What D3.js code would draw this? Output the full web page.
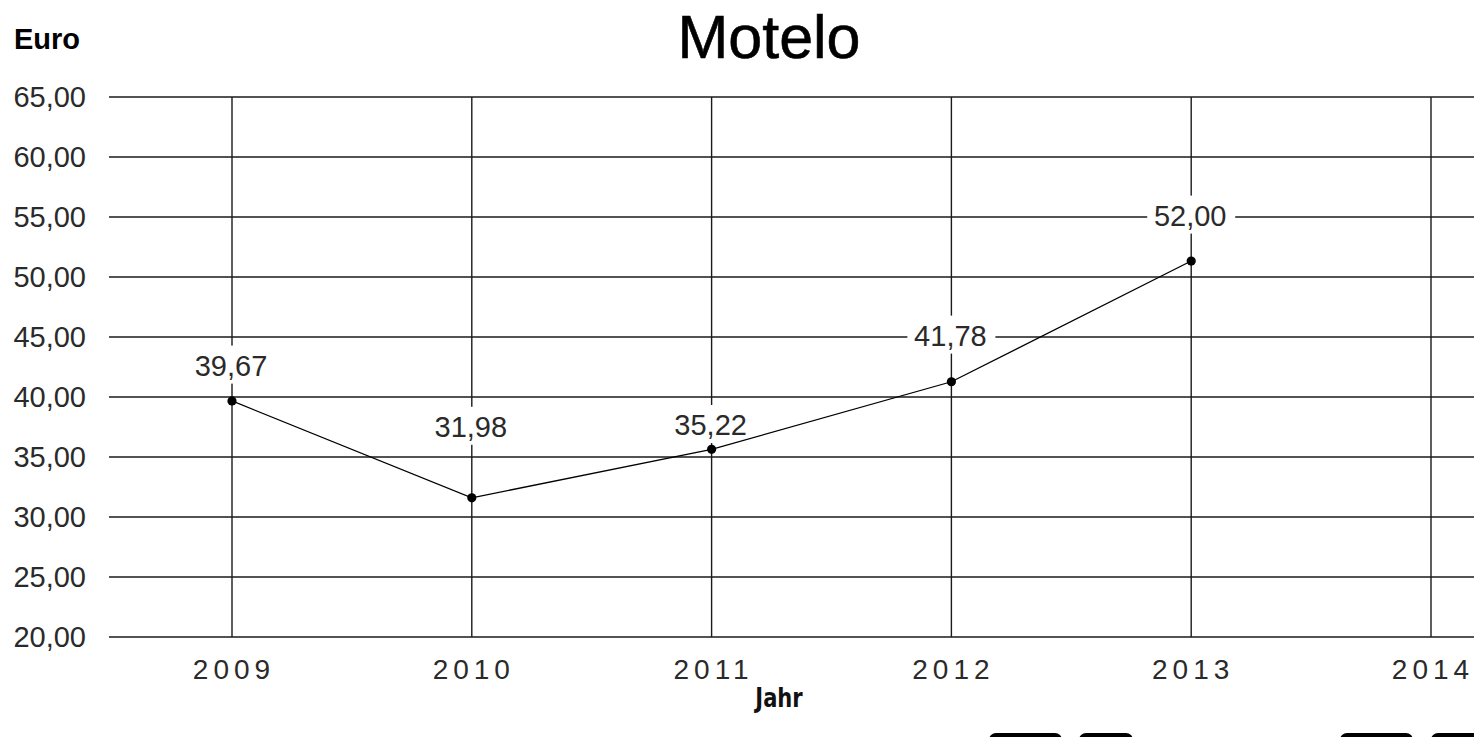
<!DOCTYPE html>
<html>
<head>
<meta charset="utf-8">
<script src="https://cdn.jsdelivr.net/npm/d3@7"></script>
<style>
  html, body { margin: 0; padding: 0; background: #fff; overflow: hidden; }
  svg { display: block; font-family: "Liberation Sans", Arial, sans-serif; }
</style>
</head>
<body>
<div id="chart-container"></div>
<script>
const years = [2009, 2010, 2011, 2012, 2013]
const yearTicks = [2009, 2010, 2011, 2012, 2013, 2014]
// where the dots sit in the picture
const values = [39.67, 31.6, 35.64, 41.27, 51.33]
// the printed numbers
const valueLabels = ['39,67', '31,98', '35,22', '41,78', '52,00']
// the height (in Euro) each printed number is centred on
const labelAt = [42.7, 37.6, 37.75, 45.2, 55.2]
const euroTicks = [20, 25, 30, 35, 40, 45, 50, 55, 60, 65]

const svgWidth = 1474, svgHeight = 737

const svg = d3.select('#chart-container')
  .append('svg')
  .attr('width', svgWidth)
  .attr('height', svgHeight)

const xScale = d3.scaleLinear()
  .domain([2009, 2014])
  .range([232, 1431])

const yScale = d3.scaleLinear()
  .domain([20, 65])
  .range([637, 97])

// horizontal grid
svg.append('g')
  .selectAll('line')
  .data(euroTicks)
  .enter()
  .append('line')
  .attr('x1', 109)
  .attr('x2', svgWidth)
  .attr('y1', d => yScale(d))
  .attr('y2', d => yScale(d))
  .attr('stroke', '#1a1a1a')
  .attr('stroke-width', 1.6)

// vertical grid
svg.append('g')
  .selectAll('line')
  .data(yearTicks)
  .enter()
  .append('line')
  .attr('x1', d => xScale(d))
  .attr('x2', d => xScale(d))
  .attr('y1', yScale(65))
  .attr('y2', yScale(20))
  .attr('stroke', '#1a1a1a')
  .attr('stroke-width', 1.4)

// y labels
svg.append('g')
  .selectAll('text')
  .data(euroTicks)
  .enter()
  .append('text')
  .attr('x', 86)
  .attr('y', d => yScale(d) + 10)
  .attr('text-anchor', 'end')
  .attr('font-size', 29)
  .attr('fill', '#2a2a2a')
  .text(d => d3.format('.2f')(d).replace('.', ','))

// x labels
svg.append('g')
  .selectAll('text')
  .data(yearTicks)
  .enter()
  .append('text')
  .attr('x', d => xScale(d) + 2)
  .attr('y', yScale(20) + 42)
  .attr('text-anchor', 'middle')
  .attr('font-size', 28)
  .attr('letter-spacing', 5)
  .attr('fill', '#2a2a2a')
  .text(d => d)

// value labels with white boxes behind (they cover the grid, not the line)
const labels = svg.append('g')
  .selectAll('g')
  .data(valueLabels)
  .enter()
  .append('g')
  .attr('transform', (d, i) => 'translate(' + [xScale(years[i]), yScale(labelAt[i])] + ')')

labels.append('rect')
  .attr('x', -44)
  .attr('y', -19)
  .attr('width', 88)
  .attr('height', 38)
  .attr('fill', '#fff')

labels.append('text')
  .attr('x', -1)
  .attr('y', 11)
  .attr('text-anchor', 'middle')
  .attr('font-size', 29)
  .attr('fill', '#2a2a2a')
  .text(d => d)

// line
const line = d3.line()
  .x((d, i) => xScale(years[i]))
  .y(d => yScale(d))

svg.append('path')
  .datum(values)
  .attr('d', line)
  .attr('fill', 'none')
  .attr('stroke', '#000')
  .attr('stroke-width', 1.3)

svg.append('g')
  .selectAll('circle')
  .data(values)
  .enter()
  .append('circle')
  .attr('cx', (d, i) => xScale(years[i]))
  .attr('cy', d => yScale(d))
  .attr('r', 4.6)
  .attr('fill', '#000')

// titles
svg.append('text')
  .attr('x', 769)
  .attr('y', 58)
  .attr('text-anchor', 'middle')
  .attr('font-size', 61)
  .attr('fill', '#000')
  .attr('stroke', '#000')
  .attr('stroke-width', 0.6)
  .text('Motelo')

svg.append('text')
  .attr('x', 14)
  .attr('y', 49)
  .attr('font-size', 29)
  .attr('font-weight', 'bold')
  .attr('fill', '#000')
  .text('Euro')

svg.append('text')
  .attr('transform', 'translate(779,707) scale(0.78,1)')
  .attr('text-anchor', 'middle')
  .attr('font-family', '"DejaVu Sans", sans-serif')
  .attr('font-weight', 'bold')
  .attr('font-size', 27)
  .attr('fill', '#111')
  .text('Jahr')

// buttons cut off at the bottom edge
const buttons = [[989, 73], [1079, 54], [1340, 73], [1431, 60]]
svg.append('g')
  .selectAll('rect')
  .data(buttons)
  .enter()
  .append('rect')
  .attr('x', d => d[0])
  .attr('y', 733)
  .attr('width', d => d[1])
  .attr('height', 20)
  .attr('rx', 7)
  .attr('fill', '#000')
</script>
</body>
</html>
